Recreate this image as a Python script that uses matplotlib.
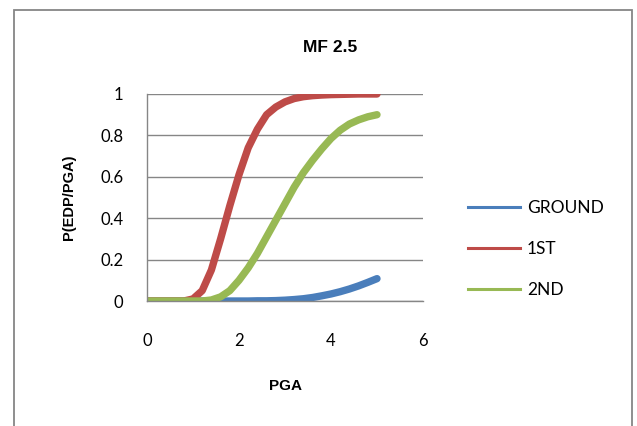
import numpy as np
import matplotlib.pyplot as plt
from matplotlib.patches import Rectangle
from matplotlib.lines import Line2D

plt.rcParams['font.family'] = ['Lato', 'DejaVu Sans']

# values
pga = [0.0, 0.2, 0.4, 0.6, 0.8, 1.0, 1.2, 1.4, 1.6, 1.8, 2.0, 2.2, 2.4,
       2.6, 2.8, 3.0, 3.2, 3.4, 3.6, 3.8, 4.0, 4.2, 4.4, 4.6, 4.8, 5.0]
ground = [0, 0, 0, 0, 0, 0, 0, 0, 0, 0, 0, 0, 0.001,
          0.001, 0.002, 0.004, 0.007, 0.011, 0.017, 0.025, 0.034, 0.045, 0.058, 0.073, 0.09, 0.108]
first = [0, 0, 0, 0, 0, 0.01, 0.05, 0.15, 0.30, 0.46, 0.61, 0.74, 0.83,
         0.90, 0.937, 0.962, 0.978, 0.987, 0.992, 0.995, 0.997, 0.998, 0.999, 1.0, 1.0, 1.0]
second = [0, 0, 0, 0, 0, 0, 0, 0.005, 0.02, 0.05, 0.10, 0.16, 0.23,
          0.31, 0.39, 0.47, 0.55, 0.62, 0.68, 0.735, 0.785, 0.825, 0.855, 0.875, 0.89, 0.90]
labels = ['GROUND', '1ST', '2ND']
colors = ['#4a7ebb', '#be4b48', '#98b954']

fig = plt.figure(figsize=(6.37, 4.26), dpi=100)
ax = fig.add_axes([147/637, 1 - 301/426, (423 - 147)/637, (301 - 94)/426])

for y, c in zip([ground, first, second], colors):
    ax.plot(pga, y, color=c, lw=5.3, solid_capstyle='round', solid_joinstyle='round')

ax.set_xlim(0, 6)
ax.set_ylim(0, 1)
ax.set_xticks([0, 2, 4, 6])
ax.set_yticks([0, 0.2, 0.4, 0.6, 0.8, 1])
ax.set_yticklabels(['0', '0.2', '0.4', '0.6', '0.8', '1'])
ax.tick_params(length=0, labelsize=12, colors='black')
ax.tick_params(axis='y', pad=17)
ax.tick_params(axis='x', pad=23)
ax.grid(axis='y', color='#868686', lw=1)
ax.set_axisbelow(True)
for s in ['top', 'right']:
    ax.spines[s].set_visible(False)
for s in ['left', 'bottom']:
    ax.spines[s].set_color('#868686')
    ax.spines[s].set_linewidth(1)

bold = ['Liberation Sans', 'DejaVu Sans']
fig.text(330/637, 1 - 47/426, 'MF 2.5', ha='center', va='center', fontsize=12.5,
         fontweight='bold', fontfamily=bold)
fig.text(69/637, 1 - 197/426, 'P(EDP/PGA)', ha='center', va='center', rotation=90,
         fontsize=10.5, fontweight='bold', fontfamily=bold)
fig.text(285/637, 1 - 386/426, 'PGA', ha='center', va='center', fontsize=11,
         fontweight='bold', fontfamily=bold)

handles = [Line2D([], [], color=c, lw=2.2) for c in colors]
fig.legend(handles, labels, loc='upper left', bbox_to_anchor=(461/637, 1 - 193/426),
           frameon=False, fontsize=12.5, handlelength=3.0, handletextpad=0.4,
           labelspacing=1.45, borderaxespad=0)

fig.patches.append(Rectangle((14/637, -0.1), (632 - 14)/637, 1.1 - 10/426,
                             transform=fig.transFigure, fill=False,
                             edgecolor='#868686', lw=1.3))

fig.savefig('out.png', dpi=100)
